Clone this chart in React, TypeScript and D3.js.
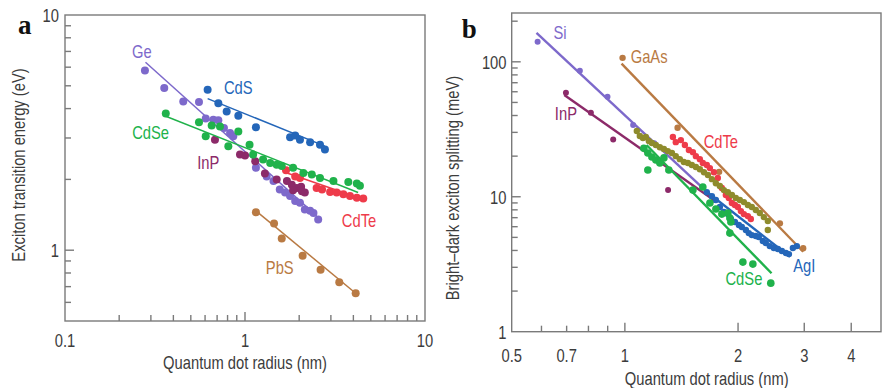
import React from 'react';
import * as d3 from 'd3';

type P = [number, number];

const FONT = "'Liberation Sans',Arial,sans-serif";
const SERIF = "'Liberation Serif','Times New Roman',serif";

// ---------- Panel a: exciton transition energy (eV) vs radius (nm) ----------
const geA: P[] = [[0.278,5.81],[0.356,4.89],[0.454,4.29],[0.555,4.27],[0.605,3.63],[0.667,3.59],[0.711,3.57],[0.764,3.31],[0.826,3.15],[0.861,3.05],[1.15,2.24],[1.32,2.06],[1.44,1.97],[1.56,1.81],[1.67,1.76],[1.78,1.70],[1.90,1.62],[2.02,1.59],[2.15,1.49],[2.30,1.47],[2.40,1.44],[2.55,1.35]];
const geAFit: P[] = [[0.28,6.3],[2.5,1.40]];
const cdsA: P[] = [[0.62,4.81],[0.711,4.22],[0.791,3.89],[0.918,3.73],[1.15,3.33],[1.78,3.02],[1.90,3.07],[2.02,2.95],[2.30,2.88],[2.61,2.81],[2.78,2.68]];
const cdsAFit: P[] = [[0.62,4.41],[2.78,2.77]];
const cdseA: P[] = [[0.363,3.81],[0.555,3.50],[0.605,3.05],[0.653,3.39],[0.726,3.36],[0.808,2.77],[0.918,3.20],[1.06,2.81],[1.11,2.55],[1.26,2.43],[1.38,2.35],[1.50,2.31],[1.60,2.28],[1.85,2.24],[2.11,2.13],[2.35,2.10],[2.61,2.03],[3.10,1.97],[3.75,1.95],[4.18,1.92],[4.35,1.88]];
const cdseAFit: P[] = [[0.363,3.71],[4.25,1.76]];
const inpA: P[] = [[0.681,2.95],[0.938,2.55],[1.0,2.53],[1.14,2.39],[1.29,2.12],[1.50,2.00],[1.71,1.97],[1.82,1.90],[1.94,1.84],[2.07,1.78],[2.15,1.76],[1.85,1.80],[2.05,1.86]];
const cdteA: P[] = [[1.69,2.19],[1.90,2.06],[2.02,2.03],[2.50,1.84],[2.68,1.81],[2.97,1.77],[3.23,1.76],[3.52,1.73],[3.83,1.70],[4.18,1.67],[4.54,1.66]];
const cdteAFit: P[] = [[1.65,2.15],[4.6,1.64]];
const pbsA: P[] = [[1.15,1.45],[1.45,1.30],[1.60,1.12],[2.09,0.946],[2.63,0.825],[3.34,0.730],[4.12,0.656]];
const pbsAFit: P[] = [[1.15,1.47],[4.12,0.656]];

const aXMinor = [0.2,0.3,0.4,0.5,0.6,0.7,0.8,0.9,2,3,4,5,6,7,8,9];
const aXMajor = [1];
const aXLabels = [0.1, 1, 10];
const aYMinor = [0.6,0.7,0.8,0.9,2,3,4,5,6,7,8,9];
const aYMajor = [1];
const aYLabels = [1, 10];

const aNames = ['Ge','CdS','CdSe','InP','CdTe','PbS'];
const aLabelPos: P[] = [[0.267,6.57],[0.918,4.60],[0.299,2.96],[0.625,2.21],[4.30,1.26],[1.56,0.794]];

// ---------- Panel b: bright-dark exciton splitting (meV) vs radius (nm) ----------
const siB: P[] = [[0.586,141],[0.759,85.7],[0.899,55.1],[1.052,34.0],[1.197,24.9]];
const siBFit: P[] = [[0.582,164],[1.65,10.9]];
const gaasB: P[] = [[0.986,107],[1.381,32.5],[1.781,15.3],[2.584,6.35],[2.98,4.15]];
const gaasBFit: P[] = [[0.98,97],[2.98,3.91]];
const inpB: P[] = [[0.697,58.9],[0.812,41.9],[0.931,26.6],[1.303,11.2],[1.735,9.46]];
const inpBFit: P[] = [[0.69,56.7],[1.75,9.18]];
const oliveB: P[] = [[1.076,30.7],[1.096,28.2],[1.117,27.2],[1.137,27.7],[1.158,25.9],[1.180,25.0],[1.209,24.2],[1.239,23.3],[1.270,22.6],[1.301,21.8],[1.334,21.1],[1.366,20.0],[1.400,19.0],[1.435,18.1],[1.471,17.8],[1.507,17.2],[1.545,16.6],[1.583,16.0],[1.623,15.2],[1.663,14.5],[1.704,13.5],[1.746,12.6],[1.789,12.0],[1.834,11.2],[1.879,10.8],[1.926,10.3],[1.973,9.78],[2.022,9.45],[2.073,9.13],[2.124,8.68],[2.176,8.39],[2.230,7.97],[2.285,7.57],[2.342,7.07],[2.400,6.61],[2.400,5.67]];
const cdteB: P[] = [[1.342,27.7],[1.366,25.4],[1.409,26.3],[1.444,24.2],[1.480,22.2],[1.517,21.4],[1.545,20.0],[1.583,19.0],[1.612,17.8],[1.652,17.2],[1.683,16.3],[1.725,15.2],[1.767,13.8],[1.811,11.6],[1.856,10.3],[1.890,9.78],[1.926,8.98],[1.962,8.68],[1.998,8.39],[2.035,7.83],[2.073,7.44],[2.124,7.19],[2.163,6.84]];
const agiB: P[] = [[1.652,10.8],[1.704,10.1],[1.746,9.45],[1.789,8.39],[1.834,7.70],[1.879,7.44],[1.914,6.84],[1.962,6.50],[2.010,6.17],[2.047,5.97],[2.098,5.67],[2.136,5.38],[2.176,5.20],[2.230,5.12],[2.271,5.03],[2.328,4.70],[2.371,4.54],[2.429,4.31],[2.490,4.17],[2.553,4.10],[2.616,3.96],[2.681,3.83],[2.731,3.76],[2.798,4.17],[2.867,4.31]];
const agiBFit: P[] = [[1.65,10.9],[2.75,3.59]];
const cdseB: P[] = [[1.123,22.9],[1.151,21.1],[1.180,19.7],[1.209,18.7],[1.239,17.8],[1.151,15.8],[1.309,15.8],[1.270,19.4],[1.517,11.2],[1.612,11.8],[1.683,8.98],[1.746,8.11],[1.811,7.44],[1.879,7.57],[1.902,6.95],[1.914,6.50],[1.902,5.38],[2.060,3.28],[2.190,3.17],[2.444,2.29]];
const cdseBFit: P[] = [[1.142,24.2],[2.455,2.71]];

const bXMinor = [0.6,0.7,0.8,0.9];
const bXMajor = [1,2,3,4];
const bXLabels = [0.5,0.7,1,2,3,4];
const bYMinor = [2,3,4,5,6,7,8,9,20,30,40,50,60,70,80,90,200];
const bYMajor = [10,100];
const bYLabels = [1,10,100];

const bNames = ['Si','GaAs','InP','CdTe','AgI','CdSe'];
const bLabelPos: P[] = [[0.672,147],[1.16,97.8],[0.697,37.2],[1.80,22.9],[3.0,2.79],[2.073,2.23]];

const C = {
  purple: '#7d69cb',
  blue: '#2466b9',
  green: '#20b24b',
  maroon: '#8c2a69',
  red: '#ee3b4a',
  brown: '#b97a43',
  olive: '#8e8b2c',
};

const AX = '#7a7a7a';
const TXT = '#3c3c3c';

// condensed sans text: Liberation Sans squeezed horizontally
function T({ x, y, anchor = 'middle', fill = TXT, rotate = 0, size = 18, children }: any) {
  return (
    <text transform={`translate(${x},${y}) rotate(${rotate}) scale(0.82,1)`} textAnchor={anchor}
      fontSize={size} fill={fill} fontFamily={FONT}>{children}</text>
  );
}

function Series({ pts, fit, x, y, color, r, lw }: any) {
  const line = d3.line<P>().x(d => x(d[0])).y(d => y(d[1]));
  return (
    <g>
      {fit && <path d={line(fit) || ''} stroke={color} strokeWidth={lw} fill="none" />}
      {pts.map((d: P, i: number) => (
        <circle key={i} cx={x(d[0])} cy={y(d[1])} r={r} fill={color} />
      ))}
    </g>
  );
}

function Frame({ x, y, xMinor, xMajor, yMinor, yMajor }: any) {
  const [x0, x1] = x.range();
  const [y0, y1] = y.range();
  return (
    <g stroke={AX} strokeWidth={1.4} fill="none">
      <rect x={x0} y={y1} width={x1 - x0} height={y0 - y1} />
      {xMinor.map((v: number) => <line key={'xm' + v} x1={x(v)} x2={x(v)} y1={y0} y2={y0 - 6} />)}
      {xMajor.map((v: number) => <line key={'xM' + v} x1={x(v)} x2={x(v)} y1={y0} y2={y0 - 9} />)}
      {yMinor.map((v: number) => <line key={'ym' + v} x1={x0} x2={x0 + 6} y1={y(v)} y2={y(v)} />)}
      {yMajor.map((v: number) => <line key={'yM' + v} x1={x0} x2={x0 + 9} y1={y(v)} y2={y(v)} />)}
    </g>
  );
}

export default function App() {
  const xa = d3.scaleLog().domain([0.1, 10]).range([65, 425]);
  const ya = d3.scaleLog().domain([0.5, 10]).range([321, 15]);
  const xb = d3.scaleLog().domain([0.5, 4.8]).range([511.7, 881]);
  const yb = d3.scaleLog().domain([1, 230]).range([331.7, 13]);

  const aColors = [C.purple, C.blue, C.green, C.maroon, C.red, C.brown];
  const bColors = [C.purple, C.brown, C.maroon, C.red, C.blue, C.green];

  return (
    <svg width={882} height={388} style={{ position: 'absolute', left: 0, top: 0, background: '#fff' }}>
      <rect width={882} height={388} fill="#fff" />

      {/* ---------- Panel a ---------- */}
      <Frame x={xa} y={ya} xMinor={aXMinor} xMajor={aXMajor} yMinor={aYMinor} yMajor={aYMajor} />
      <Series pts={pbsA} fit={pbsAFit} x={xa} y={ya} color={C.brown} r={4} lw={1.5} />
      <Series pts={geA} fit={geAFit} x={xa} y={ya} color={C.purple} r={4} lw={1.5} />
      <Series pts={cdsA} fit={cdsAFit} x={xa} y={ya} color={C.blue} r={4} lw={1.5} />
      <Series pts={cdteA} fit={cdteAFit} x={xa} y={ya} color={C.red} r={4} lw={1.5} />
      <Series pts={inpA} x={xa} y={ya} color={C.maroon} r={4} lw={1.5} />
      <Series pts={cdseA} fit={cdseAFit} x={xa} y={ya} color={C.green} r={4} lw={1.5} />

      {aNames.map((n, i) => (
        <T key={n} x={xa(aLabelPos[i][0])} y={ya(aLabelPos[i][1])} fill={aColors[i]}>{n}</T>
      ))}

      {aXLabels.map(v => (
        <T key={'axl' + v} x={xa(v)} y={346.5}>{String(v)}</T>
      ))}
      {aYLabels.map(v => (
        <T key={'ayl' + v} x={59} y={ya(v) + 7} anchor="end">{String(v)}</T>
      ))}
      <T x={245} y={368.5}>Quantum dot radius (nm)</T>
      <T x={24.5} y={165} rotate={-90}>Exciton transition energy (eV)</T>
      <text x={18} y={33.5} fontFamily={SERIF} fontWeight="bold" fontSize={27} fill="#111">a</text>

      {/* ---------- Panel b ---------- */}
      <Frame x={xb} y={yb} xMinor={bXMinor} xMajor={bXMajor} yMinor={bYMinor} yMajor={bYMajor} />
      <Series pts={inpB} fit={inpBFit} x={xb} y={yb} color={C.maroon} r={3} lw={2.4} />
      <Series pts={siB} fit={siBFit} x={xb} y={yb} color={C.purple} r={3} lw={2.4} />
      <Series pts={gaasB} fit={gaasBFit} x={xb} y={yb} color={C.brown} r={3.2} lw={2.4} />
      <Series pts={cdteB} x={xb} y={yb} color={C.red} r={3.2} lw={2.4} />
      <Series pts={oliveB} x={xb} y={yb} color={C.olive} r={3.2} lw={2.4} />
      <Series pts={agiB} fit={agiBFit} x={xb} y={yb} color={C.blue} r={3.2} lw={2.4} />
      <Series pts={cdseB} fit={cdseBFit} x={xb} y={yb} color={C.green} r={3.8} lw={2.4} />

      {bNames.map((n, i) => (
        <T key={n} x={xb(bLabelPos[i][0])} y={yb(bLabelPos[i][1])} fill={bColors[i]}>{n}</T>
      ))}

      {bXLabels.map(v => (
        <T key={'bxl' + v} x={xb(v)} y={361.5}>{String(v)}</T>
      ))}
      {bYLabels.map(v => (
        <T key={'byl' + v} x={506.5} y={yb(v) + 7} anchor="end">{String(v)}</T>
      ))}
      <T x={706.7} y={385}>Quantum dot radius (nm)</T>
      <T x={459} y={188} rotate={-90}>Bright–dark exciton splitting (meV)</T>
      <text x={461.7} y={38.3} fontFamily={SERIF} fontWeight="bold" fontSize={27} fill="#111">b</text>
    </svg>
  );
}
